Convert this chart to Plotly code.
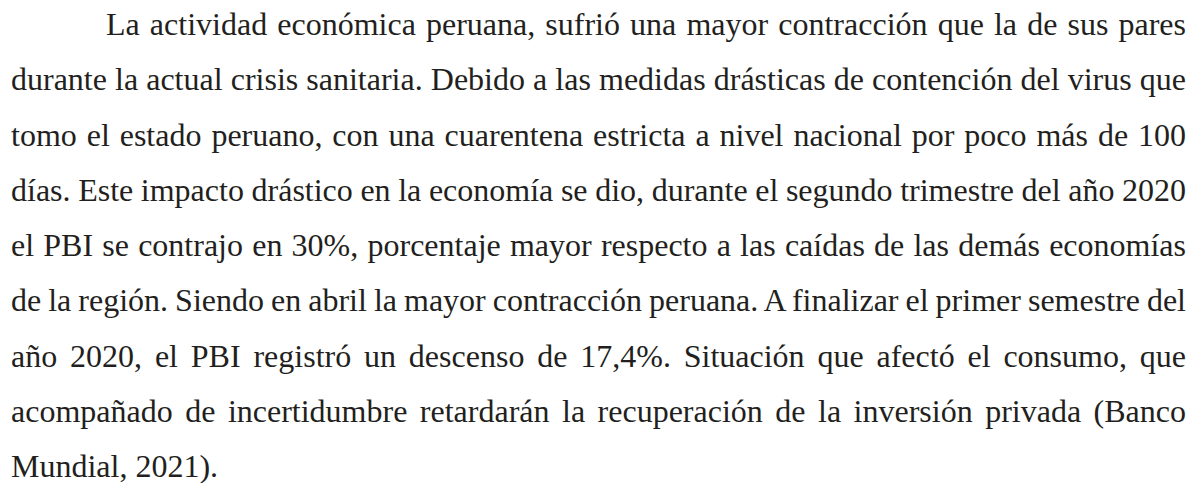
import plotly.graph_objects as go

# ---- content ----
paragraph_lines = [
    "La actividad económica peruana, sufrió una mayor contracción que la de sus pares",
    "durante la actual crisis sanitaria. Debido a las medidas drásticas de contención del virus que",
    "tomo el estado peruano, con una cuarentena estricta a nivel nacional por poco más de 100",
    "días. Este impacto drástico en la economía se dio, durante el segundo trimestre del año 2020",
    "el PBI se contrajo en 30%, porcentaje mayor respecto a las caídas de las demás economías",
    "de la región. Siendo en abril la mayor contracción peruana. A finalizar el primer semestre del",
    "año 2020, el PBI registró un descenso de 17,4%. Situación que afectó el consumo, que",
    "acompañado de incertidumbre retardarán la recuperación de la inversión privada (Banco",
    "Mundial, 2021).",
]

# ---- layout / style ----
W, H = 1192, 483
LEFT, RIGHT = 11, 1186
INDENT = 95
FIRST_BASELINE = 36
LINE_STEP = 55.25
FONT_SIZE = 32
COLOR = "#231F20"
BASELINE_TO_CENTER = 12

fig = go.Figure()
annotations = []
for i, line in enumerate(paragraph_lines):
    x0 = LEFT + (INDENT if i == 0 else 0)
    yb = FIRST_BASELINE + i * LINE_STEP
    annotations.append(dict(
        x=x0, y=yb - BASELINE_TO_CENTER, xref="x", yref="y",
        text=line, showarrow=False, xanchor="left", yanchor="middle",
        font=dict(family="Liberation Serif, Times New Roman, serif", size=FONT_SIZE, color=COLOR),
        align="left",
    ))

fig.update_layout(
    width=W, height=H,
    margin=dict(l=0, r=0, t=0, b=0),
    paper_bgcolor="white", plot_bgcolor="white",
    xaxis=dict(range=[0, W], visible=False, fixedrange=True),
    yaxis=dict(range=[H, 0], visible=False, fixedrange=True),
    annotations=annotations,
    showlegend=False,
)

# justify all lines except the last one between the margins
n_just = len(paragraph_lines) - 1
post = """
(function(){
  document.body.style.margin = '0';
  document.body.style.overflow = 'hidden';
  var gd = document.getElementById('{plot_id}');
  var busy = false;
  function justify(){
    if (busy) return;
    busy = true;
    var base = gd.getBoundingClientRect();
    var groups = gd.querySelectorAll('g.annotation');
    groups.forEach(function(g){
      var idx = parseInt(g.getAttribute('data-index'));
      if (isNaN(idx)) return;
      var t = g.querySelector('text.annotation-text');
      if (!t) return;
      t.removeAttribute('transform');
      t.style.wordSpacing = '0px';
      var x0 = %f + (idx === 0 ? %f : 0);
      if (idx < %d) {
        var target = %f - x0;
        var w = t.getComputedTextLength();
        var spaces = (t.textContent.match(/ /g) || []).length;
        if (spaces > 0) {
          t.style.wordSpacing = ((target - w) / spaces) + 'px';
        }
      }
      var L = t.getBoundingClientRect().left - base.left;
      t.setAttribute('transform', 'translate(' + (x0 - L) + ',0)');
    });
    busy = false;
  }
  justify();
  if (gd.on) gd.on('plotly_afterplot', justify);
  window.addEventListener('load', justify);
  if (document.fonts && document.fonts.ready) document.fonts.ready.then(justify);
})();
""" % (LEFT, INDENT, n_just, RIGHT)

fig.write_html("out.html", post_script=post, config={"displayModeBar": False})
